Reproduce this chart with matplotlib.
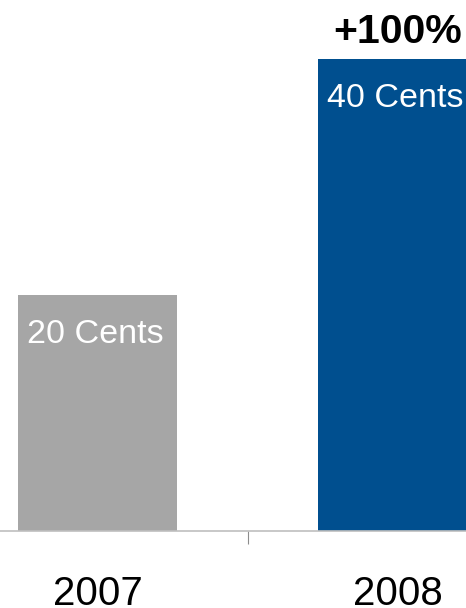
import matplotlib
matplotlib.use("Agg")
import matplotlib.pyplot as plt

plt.rcParams['font.family'] = ['Liberation Sans', 'DejaVu Sans']

years = ['2007', '2008']
cents = [20, 40]
bar_labels = ['20 Cents', '40 Cents']
bar_colors = ['#A6A6A6', '#004F8F']
growth_label = '+100%'

fig = plt.figure(figsize=(4.66, 6.08), dpi=100)
ax = fig.add_axes([0, 77 / 608, 1, 531 / 608])

x = list(range(len(years)))
ax.bar(x, cents, width=0.53, color=bar_colors, zorder=2)

# value labels inside the bars
for xi, v, lab in zip(x, cents, bar_labels):
    ax.text(xi - 0.007, v - 4.1, lab, color='white', fontsize=24.5,
            ha='center', va='baseline', zorder=3)

# growth label above the last bar
ax.text(x[-1], cents[-1] + 1.36, growth_label, fontsize=29.5,
        fontweight='bold', ha='center', va='baseline')

ax.set_xlim(-0.325, 1.2283)
ax.set_ylim(0, 45)

for s in ['left', 'right', 'top']:
    ax.spines[s].set_visible(False)
ax.spines['bottom'].set_color('#BFBFBF')
ax.spines['bottom'].set_linewidth(1.2)
ax.set_yticks([])

# year labels (no tick marks) and a separator tick between the categories
ax.set_xticks(x)
ax.set_xticklabels(years, fontsize=29)
ax.tick_params(axis='x', which='major', length=0, pad=53.3)
for t in ax.get_xticklabels():
    t.set_va('baseline')
ax.set_xticks([0.5], minor=True)
ax.tick_params(axis='x', which='minor', length=9.4, width=0.8, color='#8C8C8C')

fig.savefig('out.png', dpi=100)
